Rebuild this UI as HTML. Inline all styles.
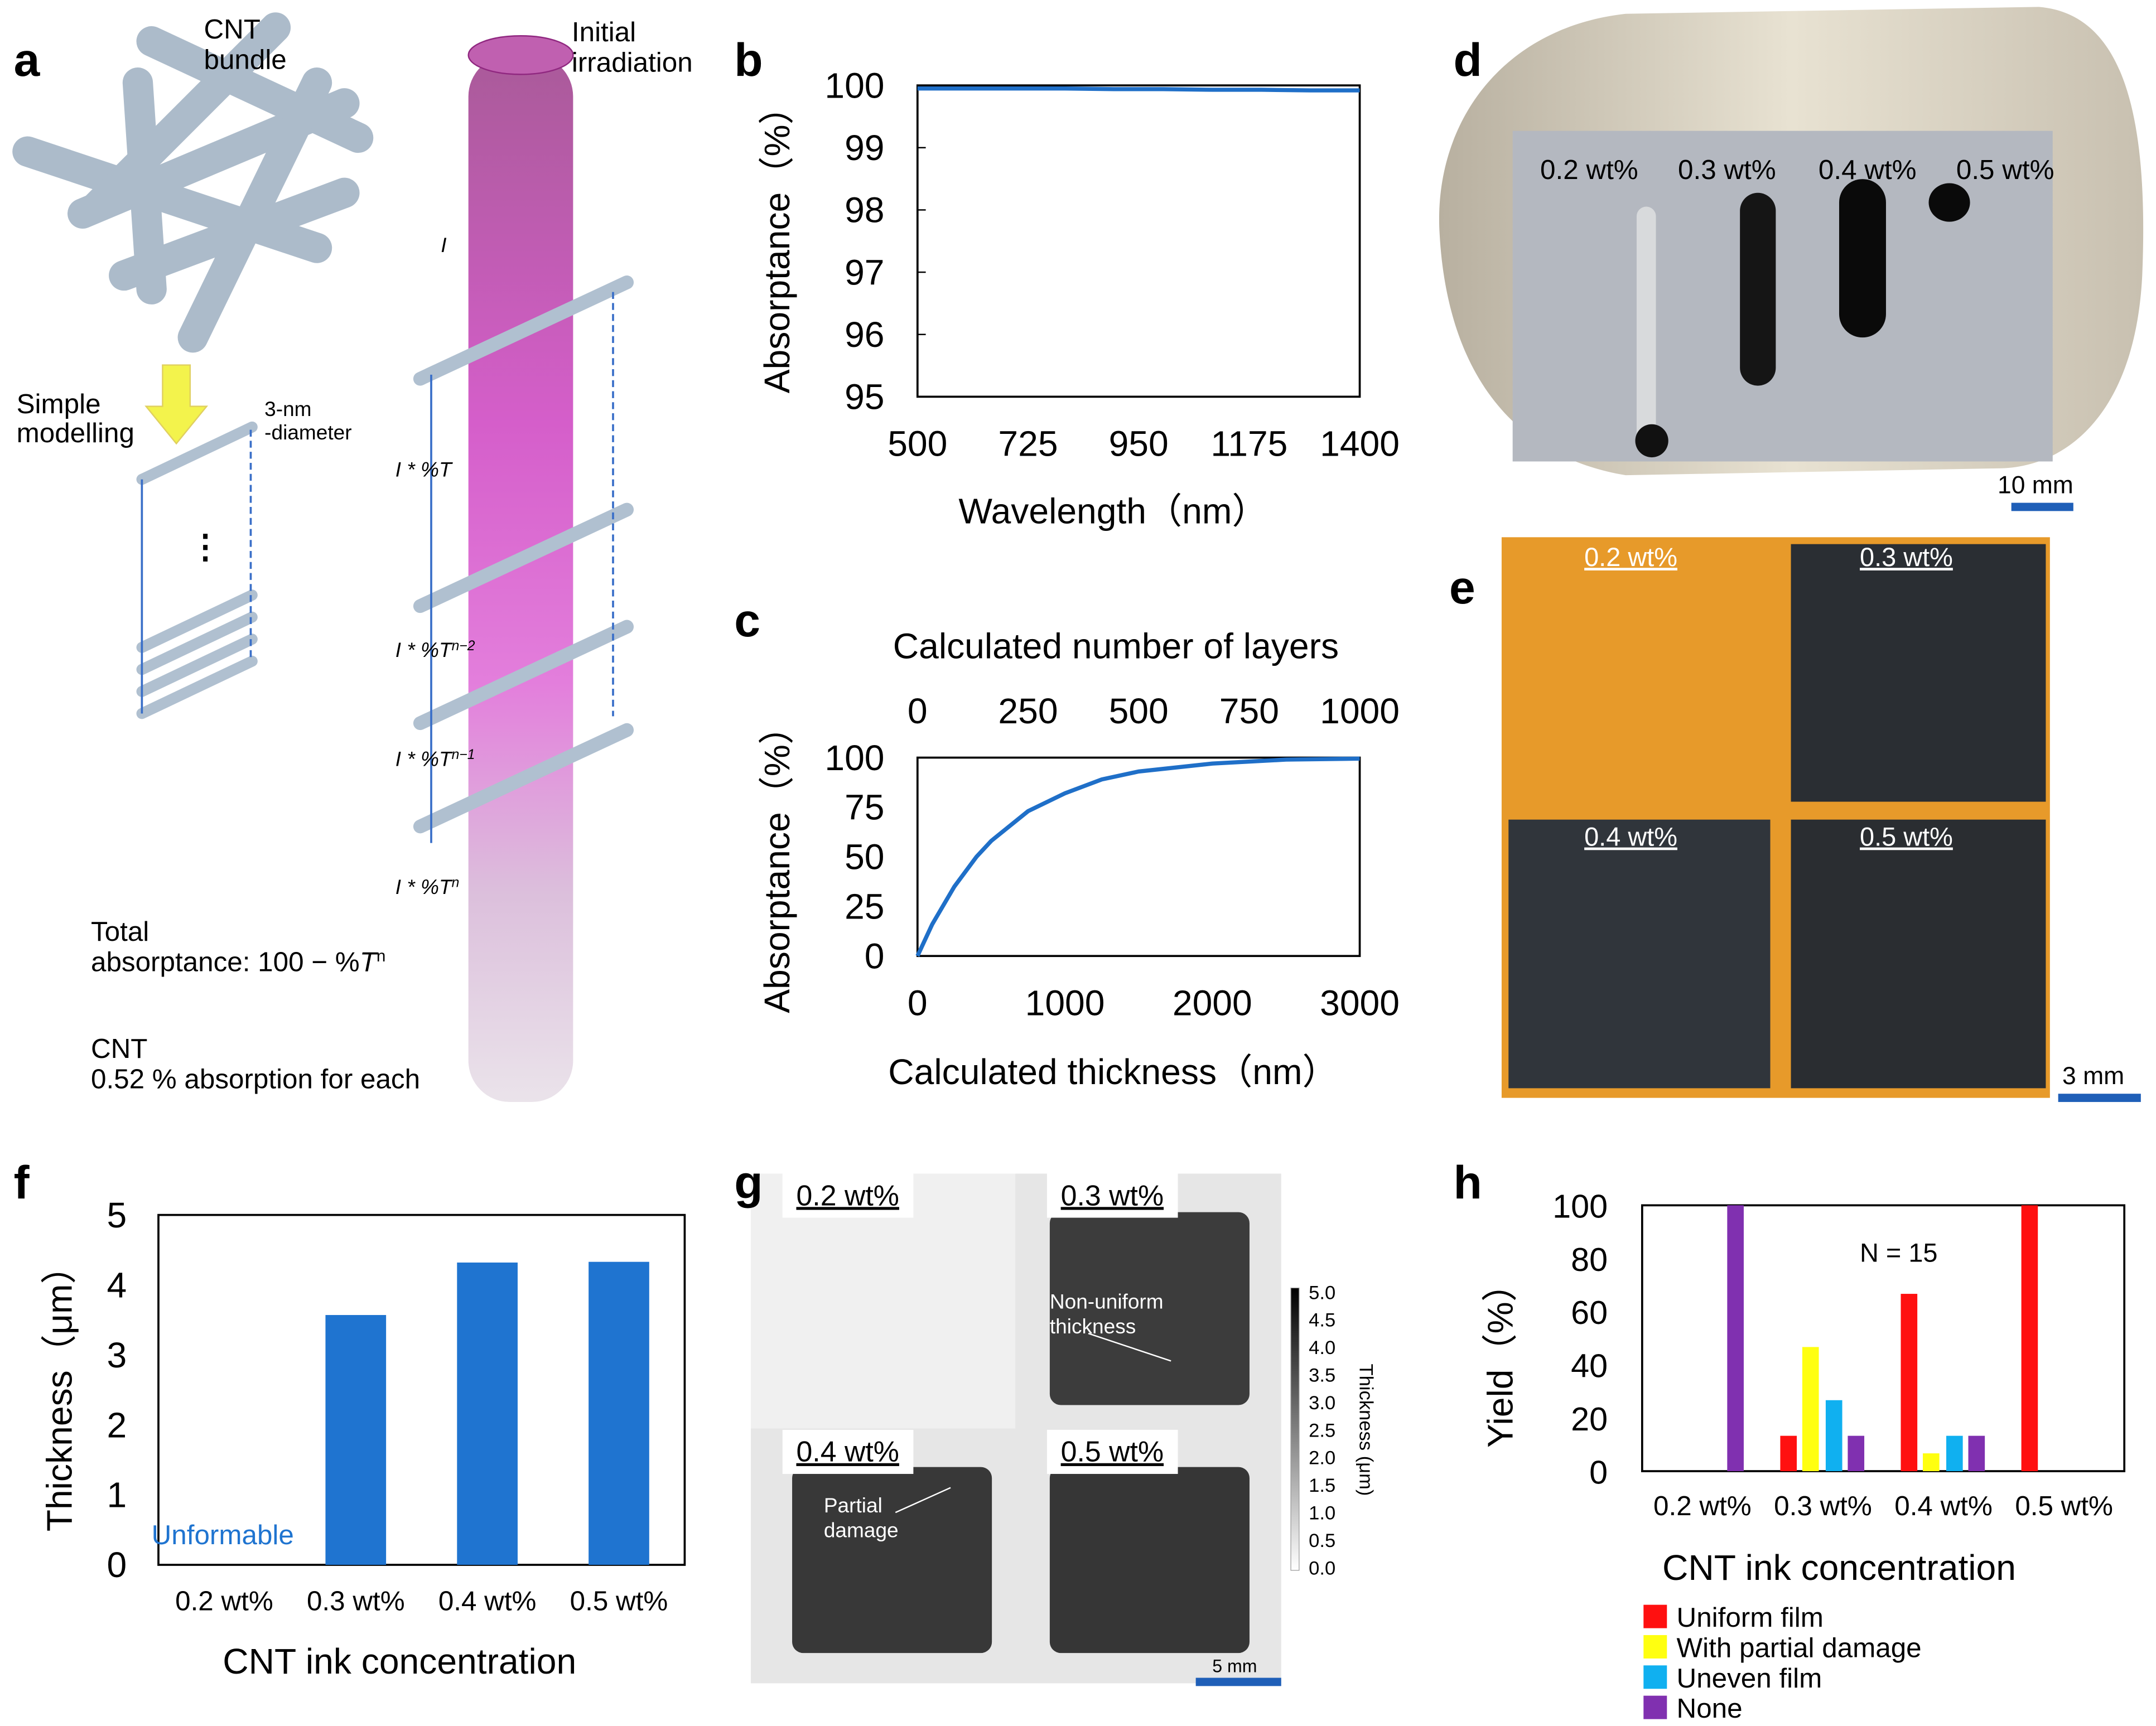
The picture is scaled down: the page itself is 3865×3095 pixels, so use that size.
<!DOCTYPE html>
<html><head><meta charset="utf-8"><style>
html,body{margin:0;padding:0;background:#fff}
svg{display:block}
text{font-family:"Liberation Sans",Arial,sans-serif}
</style></head><body>
<svg id="fig" width="3865" height="3095" viewBox="0 0 1565 1253" preserveAspectRatio="none" xmlns="http://www.w3.org/2000/svg">
<defs>
<linearGradient id="mag" x1="0" y1="0" x2="0" y2="1">
<stop offset="0" stop-color="#a0488e"/><stop offset="0.35" stop-color="#d04cc4"/><stop offset="0.6" stop-color="#e070d8"/><stop offset="0.8" stop-color="#d8b8d8"/><stop offset="1" stop-color="#e8e0e8"/></linearGradient>
<linearGradient id="gl" x1="0" y1="0" x2="1" y2="0"><stop offset="0" stop-color="#b8b0a0"/><stop offset="0.5" stop-color="#e8e2d2"/><stop offset="1" stop-color="#c8c0b0"/></linearGradient>
</defs>
<!-- Panel a -->
<g>
<text x="10" y="55" font-size="34" font-weight="bold">a</text>
<g stroke="#a8b8c8" stroke-width="22" stroke-linecap="round" opacity="0.95">
<line x1="20" y1="110" x2="230" y2="180"/><line x1="70" y1="150" x2="200" y2="20"/><line x1="110" y1="30" x2="260" y2="100"/>
<line x1="60" y1="155" x2="250" y2="75"/><line x1="100" y1="60" x2="110" y2="210"/><line x1="140" y1="245" x2="230" y2="60"/><line x1="90" y1="200" x2="250" y2="140"/>
</g>
<text x="148" y="28" font-size="20">CNT</text>
<text x="148" y="50" font-size="20">bundle</text>
<polygon points="118,265 138,265 138,295 150,295 128,322 106,295 118,295" fill="#f3f34c" stroke="#e0d060"/>
<text x="12" y="300" font-size="20">Simple</text>
<text x="12" y="321" font-size="20">modelling</text>
<text x="192" y="302" font-size="15">3-nm</text>
<text x="192" y="319" font-size="15">-diameter</text>
<g stroke="#b0c0d0" stroke-width="8" stroke-linecap="round">
<line x1="103" y1="348" x2="183" y2="310"/><line x1="103" y1="470" x2="183" y2="432"/><line x1="103" y1="486" x2="183" y2="448"/><line x1="103" y1="502" x2="183" y2="464"/><line x1="103" y1="518" x2="183" y2="480"/>
</g>
<line x1="103" y1="348" x2="103" y2="518" stroke="#3a6fc8" stroke-width="1.5"/>
<line x1="182" y1="312" x2="182" y2="478" stroke="#3a6fc8" stroke-width="1.5" stroke-dasharray="5,3"/>
<text x="137" y="405" font-size="24" font-weight="bold">⋮</text>
<rect x="340" y="40" width="76" height="760" rx="30" fill="url(#mag)" opacity="0.9"/>
<ellipse cx="378" cy="40" rx="38" ry="14" fill="#c060b0" stroke="#902880"/>
<g stroke="#b0c0d0" stroke-width="10" stroke-linecap="round">
<line x1="305" y1="275" x2="455" y2="205"/><line x1="305" y1="440" x2="455" y2="370"/><line x1="305" y1="525" x2="455" y2="455"/><line x1="305" y1="600" x2="455" y2="530"/>
</g>
<line x1="313" y1="272" x2="313" y2="612" stroke="#3a6fc8" stroke-width="1.5"/>
<line x1="445" y1="212" x2="445" y2="520" stroke="#3a6fc8" stroke-width="1.5" stroke-dasharray="5,3"/>
<text x="415" y="30" font-size="20">Initial</text>
<text x="415" y="52" font-size="20">irradiation</text>
<g font-size="15" font-style="italic">
<text x="320" y="183">I</text><text x="287" y="346">I * %T</text><text x="287" y="477">I * %T<tspan font-size="10" dy="-5">n−2</tspan></text>
<text x="287" y="556">I * %T<tspan font-size="10" dy="-5">n−1</tspan></text><text x="287" y="649">I * %T<tspan font-size="10" dy="-5">n</tspan></text>
</g>
<text x="66" y="683" font-size="20">Total</text>
<text x="66" y="705" font-size="20">absorptance: 100 − %<tspan font-style="italic">T</tspan><tspan font-size="12" dy="-7">n</tspan></text>
<text x="66" y="768" font-size="20">CNT</text>
<text x="66" y="790" font-size="20">0.52 % absorption for each</text>
</g>
<!-- Panel b -->
<g id="pb">
<text x="533" y="55" font-size="34" font-weight="bold">b</text>
<rect x="666" y="62" width="321" height="226" fill="none" stroke="#000" stroke-width="1.5"/>
<text transform="translate(573,175) rotate(-90)" text-anchor="middle" font-size="26">Absorptance（%）</text>
<text x="808" y="380" text-anchor="middle" font-size="26">Wavelength（nm）</text>
</g>
<!-- Panel c -->
<g id="pc">
<text x="533" y="462" font-size="34" font-weight="bold">c</text>
<rect x="666" y="550" width="321" height="144" fill="none" stroke="#000" stroke-width="1.5"/>
<text x="810" y="478" text-anchor="middle" font-size="26">Calculated number of layers</text>
<text transform="translate(573,625) rotate(-90)" text-anchor="middle" font-size="26">Absorptance（%）</text>
<text x="808" y="787" text-anchor="middle" font-size="26">Calculated thickness（nm）</text>
</g>
<!-- Panel d photo -->
<g>
<rect x="1040" y="0" width="525" height="345" fill="#fff"/>
<path d="M1045,170 C1040,90 1090,20 1180,10 L1480,5 C1540,10 1560,80 1555,200 C1550,300 1500,340 1450,340 L1180,345 C1090,330 1050,260 1045,170Z" fill="url(#gl)"/>
<rect x="1098" y="95" width="392" height="240" fill="#b4b8c0"/>
<rect x="1188" y="150" width="14" height="180" fill="#d8dadc" rx="7"/>
<ellipse cx="1199" cy="320" rx="12" ry="12" fill="#111"/>
<rect x="1263" y="140" width="26" height="140" rx="13" fill="#151515"/>
<rect x="1335" y="130" width="34" height="115" rx="17" fill="#0a0a0a"/>
<ellipse cx="1415" cy="147" rx="15" ry="14" fill="#0a0a0a"/>
<g font-size="20"><text x="1118" y="130">0.2 wt%</text><text x="1218" y="130">0.3 wt%</text><text x="1320" y="130">0.4 wt%</text><text x="1420" y="130">0.5 wt%</text></g>
<text x="1055" y="55" font-size="34" font-weight="bold">d</text>
<text x="1450" y="358" font-size="18">10 mm</text>
<rect x="1460" y="365" width="45" height="6" fill="#1f5fb8"/>
</g>
<!-- Panel e photo -->
<g>
<text x="1052" y="438" font-size="34" font-weight="bold">e</text>
<rect x="1090" y="390" width="398" height="407" fill="#e79a2a"/>
<rect x="1300" y="395" width="185" height="187" fill="#2a2e33"/>
<rect x="1095" y="595" width="190" height="195" fill="#30353b"/>
<rect x="1300" y="595" width="185" height="195" fill="#2a2d31"/>
<g font-size="19" fill="#fff" text-decoration="underline"><text x="1150" y="411">0.2 wt%</text><text x="1350" y="411">0.3 wt%</text><text x="1150" y="614">0.4 wt%</text><text x="1350" y="614">0.5 wt%</text></g>
<text x="1497" y="787" font-size="18">3 mm</text>
<rect x="1494" y="794" width="60" height="6" fill="#1f5fb8"/>
</g>
<!-- Panel f -->
<g id="pf">
<text x="10" y="870" font-size="34" font-weight="bold">f</text>
<rect x="115" y="882" width="382" height="254" fill="none" stroke="#000" stroke-width="1.5"/>
<text transform="translate(52,1009) rotate(-90)" text-anchor="middle" font-size="26">Thickness（μm）</text>
<text x="290" y="1215" text-anchor="middle" font-size="26">CNT ink concentration</text>
<text x="110" y="1121" font-size="20" fill="#1f74d0">Unformable</text>
</g>
<!-- Panel g -->
<g>
<rect x="545" y="852" width="385" height="370" fill="#e6e6e6"/>
<rect x="545" y="852" width="192" height="185" fill="#f0f0f0"/>
<rect x="762" y="880" width="145" height="140" rx="8" fill="#3c3c3c"/>
<rect x="575" y="1065" width="145" height="135" rx="8" fill="#383838"/>
<rect x="762" y="1065" width="145" height="135" rx="8" fill="#363636"/>
<g fill="#fff"><rect x="568" y="852" width="95" height="32"/><rect x="760" y="852" width="95" height="32"/><rect x="568" y="1038" width="95" height="32"/><rect x="760" y="1038" width="95" height="32"/></g>
<g font-size="21" text-decoration="underline"><text x="578" y="875">0.2 wt%</text><text x="770" y="875">0.3 wt%</text><text x="578" y="1061">0.4 wt%</text><text x="770" y="1061">0.5 wt%</text></g>
<text x="533" y="870" font-size="34" font-weight="bold">g</text>
<text x="762" y="950" font-size="15" fill="#fff">Non-uniform</text>
<text x="762" y="968" font-size="15" fill="#fff">thickness</text>
<line x1="790" y1="968" x2="850" y2="988" stroke="#fff"/>
<text x="598" y="1098" font-size="15" fill="#fff">Partial</text>
<text x="598" y="1116" font-size="15" fill="#fff">damage</text>
<line x1="650" y1="1098" x2="690" y2="1080" stroke="#fff"/>
<defs><linearGradient id="cb" x1="0" y1="1" x2="0" y2="0"><stop offset="0" stop-color="#fff"/><stop offset="1" stop-color="#000"/></linearGradient></defs>
<rect x="937" y="935" width="6" height="205" fill="url(#cb)" stroke="#999" stroke-width="0.5"/>
<g font-size="14">
<text x="950" y="943">5.0</text><text x="950" y="963">4.5</text><text x="950" y="983">4.0</text><text x="950" y="1003">3.5</text><text x="950" y="1023">3.0</text><text x="950" y="1043">2.5</text><text x="950" y="1063">2.0</text><text x="950" y="1083">1.5</text><text x="950" y="1103">1.0</text><text x="950" y="1123">0.5</text><text x="950" y="1143">0.0</text></g>
<text transform="translate(987,1038) rotate(90)" text-anchor="middle" font-size="14">Thickness (μm)</text>
<text x="880" y="1214" font-size="13">5 mm</text>
<rect x="868" y="1218" width="62" height="6" fill="#1f5fb8"/>
</g>
<!-- Panel h -->
<g id="ph">
<text x="1055" y="870" font-size="34" font-weight="bold">h</text>
<rect x="1192" y="875" width="350" height="193" fill="none" stroke="#000" stroke-width="1.5"/>
<text transform="translate(1098,985) rotate(-90)" text-anchor="middle" font-size="26">Yield（%）</text>
<text x="1335" y="1147" text-anchor="middle" font-size="26">CNT ink concentration</text>
<text x="1350" y="916" font-size="19">N = 15</text>
</g>
</svg>
<script>
const NS="http://www.w3.org/2000/svg";
// Panel b data
const bTicksX=[500,725,950,1175,1400];
const bTicksY=[95,96,97,98,99,100];
const bWave=[500,600,700,800,900,1000,1100,1200,1300,1400];
const bAbs=[99.95,99.95,99.95,99.95,99.94,99.94,99.93,99.93,99.92,99.92];
// Panel c data
const cTicksX=[0,1000,2000,3000];
const cTicksTop=[0,250,500,750,1000];
const cTicksY=[0,25,50,75,100];
const cThick=[0,100,250,400,500,750,1000,1250,1500,2000,2500,3000];
const cAbs=[0,16,35,50,58,73,82,89,93,97,99,99.5];
// Panel f data
const fCats=["0.2 wt%","0.3 wt%","0.4 wt%","0.5 wt%"];
const fVals=[0,3.57,4.32,4.33];
const fTicksY=[0,1,2,3,4,5];
// Panel h data
const hCats=["0.2 wt%","0.3 wt%","0.4 wt%","0.5 wt%"];
const hUniform=[0,13.3,66.7,100];
const hPartial=[0,46.7,6.7,0];
const hUneven=[0,26.7,13.3,0];
const hNone=[100,13.3,13.3,0];
const hTicksY=[0,20,40,60,80,100];
const hLegend=["Uniform film","With partial damage","Uneven film","None"];

function mk(parent,tag,attrs,txt){const e=document.createElementNS(NS,tag);for(const k in attrs)e.setAttribute(k,attrs[k]);if(txt!==undefined)e.textContent=txt;parent.appendChild(e);return e;}
function lin(d0,d1,r0,r1){return v=>r0+(v-d0)/(d1-d0)*(r1-r0);}

// b
{const g=document.getElementById('pb');const x=lin(500,1400,666,987),y=lin(95,100,288,62);
bTicksX.forEach(t=>{const e=mk(g,'text',{x:x(t),y:331,'text-anchor':'middle','font-size':26},t);

});
bTicksY.forEach(t=>{const e=mk(g,'text',{x:642,y:y(t)+9,'text-anchor':'end','font-size':26},t);


mk(g,'line',{x1:666,x2:672,y1:y(t),y2:y(t),stroke:'#000'});});
const p=mk(g,'polyline',{points:bWave.map((w,i)=>x(w)+','+y(bAbs[i])).join(' '),fill:'none',stroke:'#1f6fc8','stroke-width':3});

}
// c
{const g=document.getElementById('pc');const x=lin(0,3000,666,987),xt=lin(0,1000,666,987),y=lin(0,100,694,550);
cTicksX.forEach(t=>{const e=mk(g,'text',{x:x(t),y:737,'text-anchor':'middle','font-size':26},t);

});
cTicksTop.forEach(t=>{const e=mk(g,'text',{x:xt(t),y:525,'text-anchor':'middle','font-size':26},t);

});
cTicksY.forEach(t=>{const e=mk(g,'text',{x:642,y:y(t)+9,'text-anchor':'end','font-size':26},t);

});
const p=mk(g,'polyline',{points:cThick.map((w,i)=>x(w)+','+y(cAbs[i])).join(' '),fill:'none',stroke:'#1f6fc8','stroke-width':3});

}
// f
{const g=document.getElementById('pf');const y=lin(0,5,1136,882);const bw=382/4;
fTicksY.forEach(t=>{const e=mk(g,'text',{x:92,y:y(t)+9,'text-anchor':'end','font-size':26},t);

});
fCats.forEach((c,i)=>{const cx=115+bw*(i+0.5);
const e=mk(g,'text',{x:cx,y:1169,'text-anchor':'middle','font-size':20},c);


if(fVals[i]>0){const r=mk(g,'rect',{x:cx-22,y:y(fVals[i]),width:44,height:1136-y(fVals[i]),fill:'#1f74d0'});

}});}
// h
{const g=document.getElementById('ph');const y=lin(0,100,1068,875);const bw=350/4;
const series=[hUniform,hPartial,hUneven,hNone];const cols=['#ff1010','#ffff10','#10b0f0','#8030b0'];const offs=[-25,-9,8,24];
hTicksY.forEach(t=>{const e=mk(g,'text',{x:1167,y:y(t)+9,'text-anchor':'end','font-size':24},t);

});
hCats.forEach((c,i)=>{const cx=1192+bw*(i+0.5);
const e=mk(g,'text',{x:cx,y:1100,'text-anchor':'middle','font-size':20},c);


series.forEach((s,j)=>{if(s[i]>0){const r=mk(g,'rect',{x:cx+offs[j]-6,y:y(s[i]),width:12,height:1068-y(s[i]),fill:cols[j]});

}});});
hLegend.forEach((l,j)=>{const ly=1165+j*22;
const r=mk(g,'rect',{x:1193,y:ly,width:17,height:17,fill:cols[j]});


const t=mk(g,'text',{x:1217,y:ly+16,'font-size':20},l);

});}
</script>
</body></html>
